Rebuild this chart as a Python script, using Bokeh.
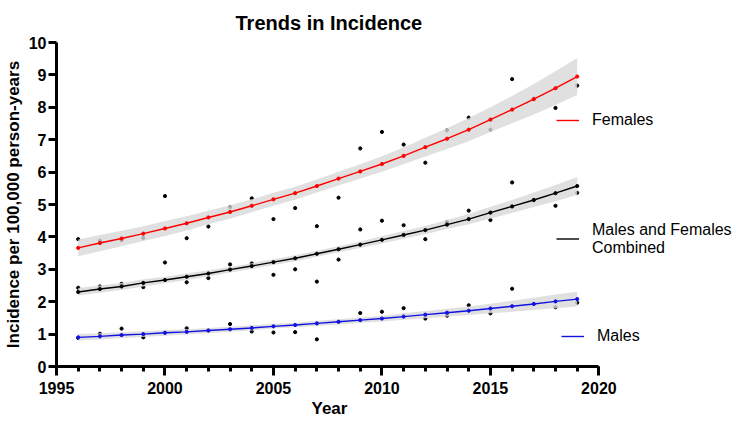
from bokeh.plotting import figure
from bokeh.models import SingleIntervalTicker, Legend, LegendItem, Range1d, Title
from bokeh.embed import file_html
from bokeh.resources import INLINE

years = list(range(1996, 2020))

female_fit = [3.66, 3.81, 3.95, 4.10, 4.26, 4.42, 4.60, 4.77, 4.96, 5.16, 5.35, 5.57,
              5.80, 6.02, 6.25, 6.50, 6.77, 7.03, 7.31, 7.62, 7.93, 8.25, 8.59, 8.95]
female_lo = [3.40, 3.56, 3.71, 3.87, 4.03, 4.20, 4.39, 4.56, 4.76, 4.96, 5.15, 5.37,
             5.59, 5.80, 6.01, 6.24, 6.48, 6.71, 6.95, 7.24, 7.51, 7.78, 8.07, 8.38]
female_hi = [3.92, 4.06, 4.19, 4.33, 4.49, 4.64, 4.81, 4.98, 5.16, 5.36, 5.55, 5.77,
             6.01, 6.24, 6.49, 6.76, 7.06, 7.35, 7.67, 8.00, 8.35, 8.72, 9.11, 9.52]
female_obs = [3.93, 3.88, 3.90, 3.97, 5.26, 3.96, 4.32, 4.92, 5.19, 4.55, 4.89, 4.33,
              5.21, 6.73, 7.24, 6.85, 6.29, 7.29, 7.68, 7.31, 8.87, 8.27, 7.98, 8.67]

comb_fit = [2.30, 2.39, 2.47, 2.58, 2.67, 2.77, 2.87, 2.99, 3.10, 3.22, 3.34, 3.48,
            3.62, 3.76, 3.91, 4.06, 4.21, 4.38, 4.55, 4.75, 4.94, 5.14, 5.35, 5.57]
comb_lo = [2.19, 2.28, 2.36, 2.47, 2.57, 2.67, 2.78, 2.90, 3.01, 3.13, 3.25, 3.39,
           3.53, 3.66, 3.80, 3.94, 4.08, 4.24, 4.39, 4.57, 4.74, 4.92, 5.10, 5.29]
comb_hi = [2.42, 2.50, 2.58, 2.69, 2.77, 2.87, 2.97, 3.08, 3.19, 3.31, 3.43, 3.57,
           3.71, 3.86, 4.02, 4.18, 4.34, 4.52, 4.71, 4.93, 5.14, 5.37, 5.60, 5.85]
comb_obs = [2.43, 2.47, 2.55, 2.45, 3.21, 2.60, 2.73, 3.15, 3.18, 2.83, 3.00, 2.62,
            3.30, 4.23, 4.50, 4.36, 3.93, 4.46, 4.81, 4.52, 5.68, 5.13, 4.96, 5.36]

male_fit = [0.90, 0.93, 0.97, 1.00, 1.04, 1.07, 1.11, 1.15, 1.19, 1.24, 1.28, 1.33,
            1.38, 1.43, 1.48, 1.54, 1.60, 1.66, 1.72, 1.79, 1.86, 1.93, 2.01, 2.08]
male_lo = [0.80, 0.83, 0.88, 0.91, 0.95, 0.99, 1.03, 1.07, 1.11, 1.17, 1.21, 1.25,
           1.30, 1.35, 1.39, 1.44, 1.49, 1.54, 1.59, 1.64, 1.69, 1.74, 1.80, 1.85]
male_hi = [1.00, 1.03, 1.06, 1.09, 1.13, 1.15, 1.19, 1.23, 1.27, 1.32, 1.35, 1.41,
           1.46, 1.51, 1.57, 1.64, 1.71, 1.78, 1.85, 1.94, 2.03, 2.12, 2.22, 2.31]
male_obs = [0.88, 1.01, 1.17, 0.90, 1.04, 1.18, 1.11, 1.31, 1.08, 1.05, 1.06, 0.84,
            1.38, 1.65, 1.69, 1.80, 1.48, 1.57, 1.89, 1.64, 2.40, 1.93, 1.83, 1.97]

x_start, x_end_axis = 1995, 2020
series_labels = ["Females", "Males and Females\nCombined", "Males"]

FONT = "Liberation Sans"
RED = "#ff0000"
BLACK = "#000000"
BLUE = "#1212e0"
BAND = "#d8d8d8"

LEFT = 49
W = 734
FRAME_W = W - LEFT
PX_PER_YEAR = 548 / 25.0
x_end_range = x_start + FRAME_W / PX_PER_YEAR

p = figure(width=W, height=419, output_backend="svg", toolbar_location=None,
           x_range=Range1d(x_start, x_end_range), y_range=Range1d(0, 10),
           min_border_left=LEFT, min_border_right=0, min_border_top=42,
           min_border_bottom=53)
p.outline_line_color = None
p.grid.visible = False
p.background_fill_color = "white"
p.border_fill_color = "white"

p.title.text = "Trends in Incidence"
p.title.text_font = FONT
p.title.text_font_size = "20px"
p.title.text_font_style = "bold"
p.title.text_color = "black"
p.title.align = "left"
p.title.offset = 179
p.title.standoff = 18

p.xaxis.ticker = SingleIntervalTicker(interval=5, num_minor_ticks=5)
p.yaxis.ticker = SingleIntervalTicker(interval=1, num_minor_ticks=0)
p.xaxis.bounds = (x_start, x_end_axis)
for ax in (p.xaxis[0], p.yaxis[0]):
    ax.axis_line_width = 3
    ax.axis_line_color = "black"
    ax.major_tick_line_width = 3
    ax.major_tick_line_color = "black"
    ax.minor_tick_line_width = 3
    ax.minor_tick_line_color = "black"
    ax.major_tick_in = 0
    ax.minor_tick_in = 0
    ax.major_label_text_font = FONT
    ax.major_label_text_font_size = "16px"
    ax.major_label_text_font_style = "bold"
    ax.major_label_text_color = "black"
    ax.axis_label_text_font = FONT
    ax.axis_label_text_font_size = "17px"
    ax.axis_label_text_font_style = "bold"
    ax.axis_label_text_color = "black"
p.xaxis.major_tick_out = 9
p.xaxis.minor_tick_out = 5
p.xaxis.major_label_standoff = 6
p.yaxis.major_tick_out = 8
p.yaxis.major_label_standoff = 2
p.yaxis.axis_label_standoff = 3
p.yaxis.axis_label = "Incidence per 100,000 person-years"

year_title = Title(text="Year", align="left", offset=255, standoff=1,
                   text_font=FONT, text_font_size="17px", text_font_style="bold",
                   text_color="black")
p.add_layout(year_title, "below")

# observed points (drawn first so the bands grey them)
for obs in (female_obs, comb_obs, male_obs):
    p.scatter(years, obs, size=3.2, color="black")

for lo, hi in ((female_lo, female_hi), (comb_lo, comb_hi), (male_lo, male_hi)):
    p.varea(x=years, y1=lo, y2=hi, fill_color=BAND, fill_alpha=0.8)

renderers = []
for fit, col in ((female_fit, RED), (comb_fit, BLACK), (male_fit, BLUE)):
    rl = p.line(years, fit, line_color=col, line_width=1.4)
    p.scatter(years, fit, size=3.2, color=col)
    renderers.append(rl)

legend_specs = [
    (series_labels[0], renderers[0], (500, 236), 20),
    (series_labels[1], renderers[1], (500, 107), 41),
    (series_labels[2], renderers[2], (505, 20), 20),
]
for label, r, loc, gh in legend_specs:
    lg = Legend(items=[LegendItem(label=label, renderers=[r])], location=loc,
                glyph_width=23, glyph_height=gh, label_height=20,
                label_standoff=13, padding=0, margin=0, spacing=0,
                border_line_alpha=0, background_fill_alpha=0,
                label_text_font=FONT, label_text_font_size="16px",
                label_text_color="black")
    p.add_layout(lg)

open("out.html", "w").write(file_html(p, INLINE))
